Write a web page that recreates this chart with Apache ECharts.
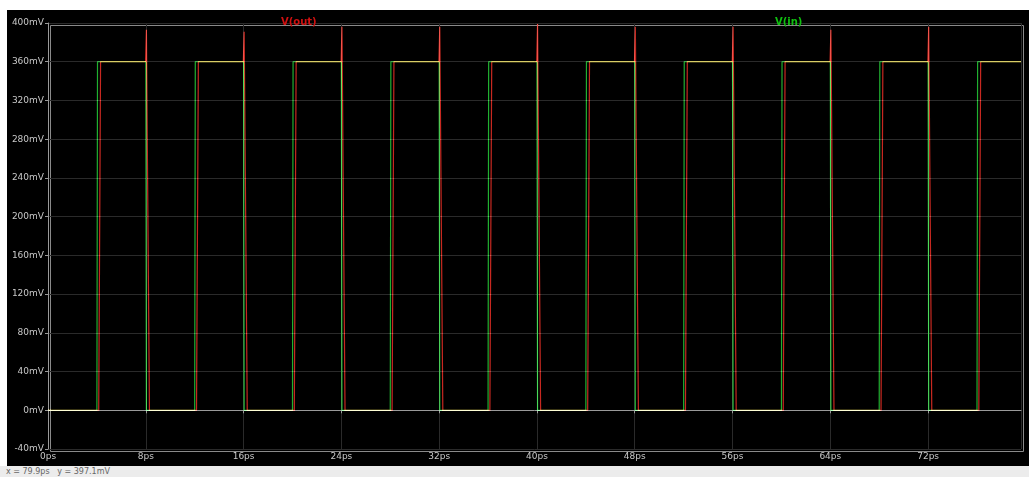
<!DOCTYPE html>
<html>
<head>
<meta charset="utf-8">
<script src="https://cdn.jsdelivr.net/npm/echarts@6/dist/echarts.min.js"></script>
<style>
  body { margin: 0; background: #fff; width: 1029px; height: 477px; overflow: hidden; position: relative; }
  #frame { position: absolute; left: 7px; top: 10px; width: 1022px; height: 456px; background: #000; }
  #chart { width: 1022px; height: 456px; }
  #status { position: absolute; left: 0; top: 466px; width: 1029px; height: 11px; background: #ececec;
            font: 8px "DejaVu Sans", sans-serif; color: #666; line-height: 11px; padding-left: 6px; }
</style>
</head>
<body>
<div id="frame"><div id="chart"></div></div>
<div id="status">x = 79.9ps &nbsp; y = 397.1mV</div>
<script>
// time in ps, voltage in mV
var inTime = [0, 4.0, 4.05, 8.0, 8.05, 12.0, 12.05, 16.0, 16.05, 20.0, 20.05, 24.0, 24.05, 28.0, 28.05,
    32.0, 32.05, 36.0, 36.05, 40.0, 40.05, 44.0, 44.05, 48.0, 48.05, 52.0, 52.05, 56.0, 56.05,
    60.0, 60.05, 64.0, 64.05, 68.0, 68.05, 72.0, 72.05, 76.0, 76.05, 79.6]
var inVolt = [0, 0, 360, 360, 0, 0, 360, 360, 0, 0, 360, 360, 0, 0, 360,
    360, 0, 0, 360, 360, 0, 0, 360, 360, 0, 0, 360, 360, 0,
    0, 360, 360, 0, 0, 360, 360, 0, 0, 360, 360]

var outTime = [0, 4.15, 4.3, 7.98, 8.05, 8.3, 12.15, 12.3, 15.98, 16.05, 16.3, 20.15, 20.3, 23.98, 24.05, 24.3,
    28.15, 28.3, 31.98, 32.05, 32.3, 36.15, 36.3, 39.98, 40.05, 40.3, 44.15, 44.3, 47.98, 48.05, 48.3,
    52.15, 52.3, 55.98, 56.05, 56.3, 60.15, 60.3, 63.98, 64.05, 64.3, 68.15, 68.3, 71.98, 72.05, 72.3,
    76.15, 76.3, 79.6]
var outVolt = [0, 0, 360, 360, 393, 0, 0, 360, 360, 391, 0, 0, 360, 360, 396, 0,
    0, 360, 360, 396, 0, 0, 360, 360, 399, 0, 0, 360, 360, 396, 0,
    0, 360, 360, 396, 0, 0, 360, 360, 393, 0, 0, 360, 360, 396, 0,
    0, 360, 360]

var xTicks = [0, 8, 16, 24, 32, 40, 48, 56, 64, 72]
var yMin = -40, yMax = 400, yStep = 40

function pairs(t, v) {
    var out = []
    for (var i = 0; i < t.length; i++) out.push([t[i], v[i]])
    return out
}

var chart = echarts.init(document.getElementById('chart'))
var labelFont = { color: '#c8c8c8', fontSize: 9, fontFamily: 'DejaVu Sans' }
chart.setOption({
    animation: false,
    backgroundColor: '#000',
    legend: [
        { data: ['V(out)'], left: 264, top: 0, icon: 'none', itemWidth: 0, itemGap: 0,
          textStyle: { color: '#d01010', fontSize: 10, fontWeight: 'bold', fontFamily: 'DejaVu Sans' } },
        { data: ['V(in)'], left: 758, top: 0, icon: 'none', itemWidth: 0, itemGap: 0,
          textStyle: { color: '#10c010', fontSize: 10, fontWeight: 'bold', fontFamily: 'DejaVu Sans' } }
    ],
    grid: { left: 41, right: 8, top: 13, bottom: 17 },
    xAxis: {
        type: 'value', min: 0, max: 79.6, interval: 8,
        axisLine: { show: true, lineStyle: { color: '#9a9a9a', width: 1 } },
        axisTick: { show: true, length: 3, lineStyle: { color: '#9a9a9a' } },
        axisLabel: Object.assign({ margin: 3, showMaxLabel: false, formatter: function (v) {
            return xTicks.indexOf(v) >= 0 ? v + 'ps' : '' } }, labelFont),
        splitLine: { show: true, lineStyle: { color: '#2a2a2a', width: 1 } }
    },
    yAxis: {
        type: 'value', min: yMin, max: yMax, interval: yStep,
        axisLine: { show: true, lineStyle: { color: '#9a9a9a', width: 1 } },
        axisTick: { show: true, length: 3, lineStyle: { color: '#9a9a9a' } },
        axisLabel: Object.assign({ margin: 4, formatter: function (v) { return v + 'mV' } }, labelFont),
        splitLine: { show: true, lineStyle: { color: '#2a2a2a', width: 1 } }
    },
    series: [
        { name: 'V(out)', type: 'line', showSymbol: false, blendMode: 'lighter',
          data: pairs(outTime, outVolt), lineStyle: { color: '#c82820', width: 1.2 }, itemStyle: { color: '#c82820' } },
        { name: 'V(in)', type: 'line', showSymbol: false, blendMode: 'lighter',
          data: pairs(inTime, inVolt), lineStyle: { color: '#20b030', width: 1.2 }, itemStyle: { color: '#20b030' } }
    ],
    graphic: [
        // plot frame like LTspice
        { type: 'rect', left: 41, top: 13, shape: { width: 973, height: 426 }, silent: true,
          style: { fill: 'none', stroke: '#8a8a8a', lineWidth: 1 } }
    ]
})
</script>
</body>
</html>
